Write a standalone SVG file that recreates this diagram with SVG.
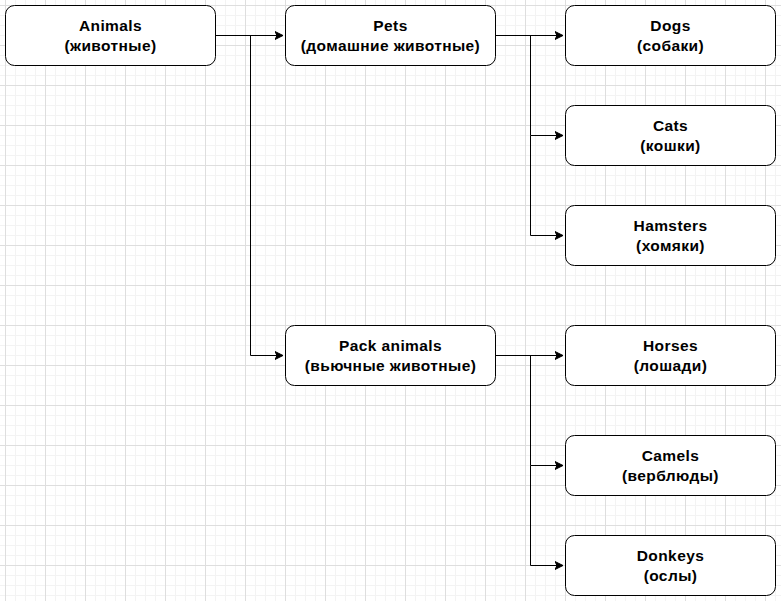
<svg xmlns="http://www.w3.org/2000/svg" width="781" height="601" viewBox="0 0 781 601">
<defs>
<pattern id="grid" x="5" y="5" width="10" height="10" patternUnits="userSpaceOnUse">
<path d="M 0 0.5 L 10 0.5 M 0.5 0 L 0.5 10" fill="none" stroke="#f3f3f3" stroke-width="1"/>
</pattern>
<pattern id="gridMaj" x="5" y="5" width="40" height="40" patternUnits="userSpaceOnUse">
<path d="M 0 0.5 L 40 0.5 M 0.5 0 L 0.5 40" fill="none" stroke="#dedede" stroke-width="1"/>
</pattern>
<marker id="arr" markerWidth="10" markerHeight="10" refX="8" refY="5" orient="auto" markerUnits="userSpaceOnUse">
<path d="M 0 1 L 8 5 L 0 9 L 2 5 Z" fill="#000" stroke="#000" stroke-width="1"/>
</marker>
<style>
.box{fill:#fff;stroke:#000;stroke-width:1;}
.t{font-family:"Liberation Sans",Arial,sans-serif;font-size:15.5px;letter-spacing:0.4px;font-weight:bold;text-anchor:middle;fill:#000;}
.c{fill:none;stroke:#000;stroke-width:1;}
</style>
</defs>
<rect x="0" y="0" width="781" height="601" fill="#fff"/>
<rect x="0" y="0" width="781" height="601" fill="url(#grid)"/>
<rect x="0" y="0" width="781" height="601" fill="url(#gridMaj)"/>
<g id="connectors">
<path class="c" d="M 215.5 35.5 L 283 35.5" marker-end="url(#arr)"/>
<path class="c" d="M 250.5 35.5 L 250.5 355.5 L 283 355.5" marker-end="url(#arr)"/>
<path class="c" d="M 495.5 35.5 L 563 35.5" marker-end="url(#arr)"/>
<path class="c" d="M 530.5 35.5 L 530.5 135.5 L 563 135.5" marker-end="url(#arr)"/>
<path class="c" d="M 530.5 135.5 L 530.5 235.5 L 563 235.5" marker-end="url(#arr)"/>
<path class="c" d="M 495.5 355.5 L 563 355.5" marker-end="url(#arr)"/>
<path class="c" d="M 530.5 355.5 L 530.5 465.5 L 563 465.5" marker-end="url(#arr)"/>
<path class="c" d="M 530.5 465.5 L 530.5 565.5 L 563 565.5" marker-end="url(#arr)"/>
</g>
<g id="animals"><rect class="box" x="5.5" y="5.5" width="210" height="60" rx="9"/><text class="t" x="110.5" y="31">Animals</text><text class="t" x="110.5" y="51">(животные)</text></g>
<g id="pets"><rect class="box" x="285.5" y="5.5" width="210" height="60" rx="9"/><text class="t" x="390.5" y="31">Pets</text><text class="t" x="390.5" y="51">(домашние животные)</text></g>
<g id="dogs"><rect class="box" x="565.5" y="5.5" width="210" height="60" rx="9"/><text class="t" x="670.5" y="31">Dogs</text><text class="t" x="670.5" y="51">(собаки)</text></g>
<g id="cats"><rect class="box" x="565.5" y="105.5" width="210" height="60" rx="9"/><text class="t" x="670.5" y="131">Cats</text><text class="t" x="670.5" y="151">(кошки)</text></g>
<g id="hamsters"><rect class="box" x="565.5" y="205.5" width="210" height="60" rx="9"/><text class="t" x="670.5" y="231">Hamsters</text><text class="t" x="670.5" y="251">(хомяки)</text></g>
<g id="pack"><rect class="box" x="285.5" y="325.5" width="210" height="60" rx="9"/><text class="t" x="390.5" y="351">Pack animals</text><text class="t" x="390.5" y="371">(вьючные животные)</text></g>
<g id="horses"><rect class="box" x="565.5" y="325.5" width="210" height="60" rx="9"/><text class="t" x="670.5" y="351">Horses</text><text class="t" x="670.5" y="371">(лошади)</text></g>
<g id="camels"><rect class="box" x="565.5" y="435.5" width="210" height="60" rx="9"/><text class="t" x="670.5" y="461">Camels</text><text class="t" x="670.5" y="481">(верблюды)</text></g>
<g id="donkeys"><rect class="box" x="565.5" y="535.5" width="210" height="60" rx="9"/><text class="t" x="670.5" y="561">Donkeys</text><text class="t" x="670.5" y="581">(ослы)</text></g>
</svg>
